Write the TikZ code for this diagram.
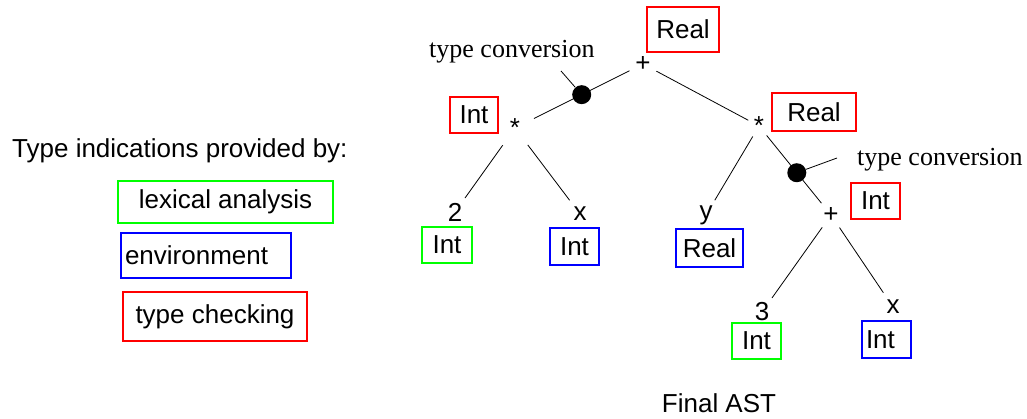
\documentclass[tikz,border=0pt]{standalone}
\usepackage{fontspec}
\setmainfont{Liberation Sans}
\newfontfamily\convfont{Liberation Serif}
\definecolor{lexgreen}{RGB}{0,255,0}
\definecolor{envblue}{RGB}{0,0,255}
\definecolor{chkred}{RGB}{255,0,0}
\begin{document}
\begin{tikzpicture}[x=1pt,y=-1pt,
    every node/.style={font=\fontsize{26}{31}\selectfont,inner sep=0pt},
    op/.style={circle,minimum size=30pt},
    leaf/.style={circle,minimum size=34pt},
    tbox/.style={draw,line width=1.6pt,inner xsep=4pt,
    minimum height=36pt,minimum width=49pt},
    lex/.style={tbox,draw=lexgreen},
    env/.style={tbox,draw=envblue},
    chk/.style={tbox,draw=chkred},
    conv/.style={circle,fill=black,minimum size=19pt},
    convtext/.style={anchor=base west,font=\convfont\fontsize{26}{31}\selectfont},
    branch/.style={line width=0.8pt}]
    \useasboundingbox (0,0) rectangle (1027,418);
    \node[op] (plus) at (643,64) {+};
    \node[op,minimum size=42pt] (mulL) at (515,128) {*};
    \node[op,minimum size=24pt] (mulR) at (759,126) {*};
    \node[op] (plus2) at (831,215) {+};
    \node[leaf] (two) at (455,212) {2};
    \node[leaf] (xL) at (580,214) {x};
    \node[leaf] (y) at (706,215) {y};
    \node[leaf] (three) at (762,312) {3};
    \node[leaf] (xR) at (893,307) {x};
    \node[chk,minimum width=72pt,minimum height=45pt] (tRoot) at (683,29.5) {Real};
    \node[chk,minimum width=48pt] (tMulL) at (474,115) {Int};
    \node[chk,minimum width=84pt,minimum height=38pt] (tMulR) at (814,112) {Real};
    \node[chk] (tPlus2) at (875.5,201) {Int};
    \node[lex,minimum width=50pt] (tTwo) at (447,245) {Int};
    \node[env,minimum height=37pt] (txL) at (574.5,246.5) {Int};
    \node[env,minimum width=67pt,minimum height=38pt] (ty) at (709.5,248) {Real};
    \node[lex] (tThree) at (756.5,341) {Int};
    \node[env,minimum height=37pt,text width=41pt,align=left] (txR) at (886.5,339.5) {Int};
    \node[anchor=base west] (legTitle) at (12,157) {Type indications provided by:};
    \node[lex,minimum width=215pt,minimum height=42pt] (legLex) at (225.5,202) {lexical analysis};
    \node[env,minimum width=170pt,minimum height=45pt,text width=162pt,align=left] (legEnv) at (206,255.5) {environment};
    \node[chk,minimum width=184pt,minimum height=49pt] (legChk) at (215,316.5) {type checking};
    \node[convtext] (convL) at (429,57) {type conversion};
    \node[convtext] (convR) at (857,165) {type conversion};
    \node (title) at (719,403.5) {Final AST};
    \draw[branch] (plus) -- node[conv,pos=0.5] (dotL) {} (mulL);
    \draw[branch] (plus) -- (mulR);
    \draw[branch] (mulL) -- (two);
    \draw[branch] (mulL) -- (xL);
    \draw[branch] (mulR) -- (y);
    \draw[branch] (mulR) -- node[conv,pos=0.55] (dotR) {} (plus2);
    \draw[branch] (plus2) -- (three);
    \draw[branch] (plus2) -- (xR);
    \coordinate (leadL) at (561,71);
    \coordinate (leadR) at (837,158);
    \draw[branch] (dotL) -- (leadL);
    \draw[branch] (dotR) -- (leadR);
\end{tikzpicture}
\end{document}
